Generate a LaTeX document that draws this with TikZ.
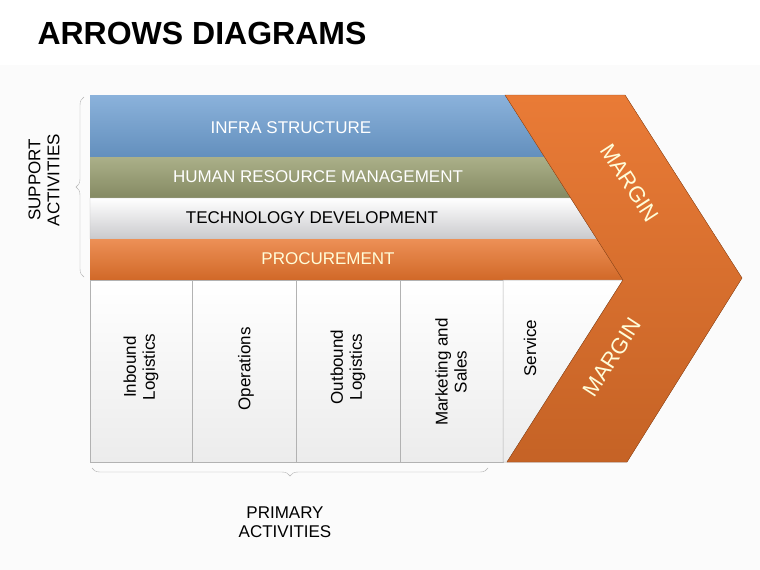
\documentclass[tikz,border=0pt]{standalone}
\usepackage{fontspec}
\setmainfont{Liberation Sans}
\usetikzlibrary{decorations.pathreplacing}
\definecolor{org}{HTML}{E8742C}
\definecolor{blu}{HTML}{6E9FD2}
\definecolor{olv}{HTML}{9CA274}
\definecolor{gry}{HTML}{DCDCE0}
\begin{document}
\begin{tikzpicture}[x=1pt,y=-1pt,
  lbl/.style={font=\fontsize{17}{19}\selectfont},
  box/.style={draw=gray!60,line width=0.5pt,top color=white,bottom color=gray!15},
  brc/.style={draw=gray!60,decorate,decoration={brace,amplitude=8pt}}]
\useasboundingbox (0,0) rectangle (760,570);
\fill[white!97!gray] (0,65) rectangle (760,570);
\node[anchor=west,font=\bfseries\fontsize{32}{36}\selectfont] (title) at (34,33) {ARROWS DIAGRAMS};
\fill[top color=blu!80!white,bottom color=blu!90!black] (90,95) -- (505,95) -- (544.6,157) -- (90,157) -- cycle;
\fill[top color=olv!85!white,bottom color=olv!85!black] (90,157) -- (544.6,157) -- (570.7,198) -- (90,198) -- cycle;
\fill[top color=white,bottom color=gry!80!gray,draw=gray!50] (90,198) -- (570.7,198) -- (596.9,239) -- (90,239) -- cycle;
\fill[top color=org!80!white,bottom color=org!90!black] (90,239) -- (596.9,239) -- (623,280) -- (90,280) -- cycle;
\node[lbl,text=white] (infra) at (291,128) {INFRA STRUCTURE};
\node[lbl,text=white] (hr) at (318,177) {HUMAN RESOURCE MANAGEMENT};
\node[lbl] (tech) at (312,218) {TECHNOLOGY DEVELOPMENT};
\node[lbl,text=white!85!yellow] (proc) at (328,259) {PROCUREMENT};
\draw[box] (90,280) rectangle (192,462);
\draw[box] (192,280) rectangle (296,462);
\draw[box] (296,280) rectangle (400,462);
\draw[box] (400,280) rectangle (503,462);
\draw[box] (503,280) -- (623,280) -- (507,462) -- (503,462) -- cycle;
\node[lbl,rotate=90,align=center] (p1) at (141,367) {Inbound\\Logistics};
\node[lbl,rotate=90] (p2) at (246,369) {Operations};
\node[lbl,rotate=90,align=center] (p3) at (348,367) {Outbound\\Logistics};
\node[lbl,rotate=90,align=center] (p4) at (451,372) {Marketing and\\Sales};
\node[lbl,rotate=90] (p5) at (530,348) {Service};
\fill[top color=org!95!white,bottom color=org!85!black,draw=org!70!black,line width=0.4pt]
 (505,95) -- (625,95) -- (742,278) -- (627,462) -- (507,462) -- (623,280) -- cycle;
\node[font=\fontsize{22}{24}\selectfont,text=white!85!yellow,rotate=-57] (m1) at (630,183) {MARGIN};
\node[font=\fontsize{22}{24}\selectfont,text=white!85!yellow,rotate=57] (m2) at (612,357) {MARGIN};
\draw[brc] (84,277) -- (84,97);
\draw[brc,decoration={mirror}] (92,468) -- (488,468);
\node[lbl,rotate=90,align=center] (sup) at (44,180) {SUPPORT\\ACTIVITIES};
\node[lbl,align=center] (pri) at (285,522) {PRIMARY\\ACTIVITIES};
\end{tikzpicture}
\end{document}
